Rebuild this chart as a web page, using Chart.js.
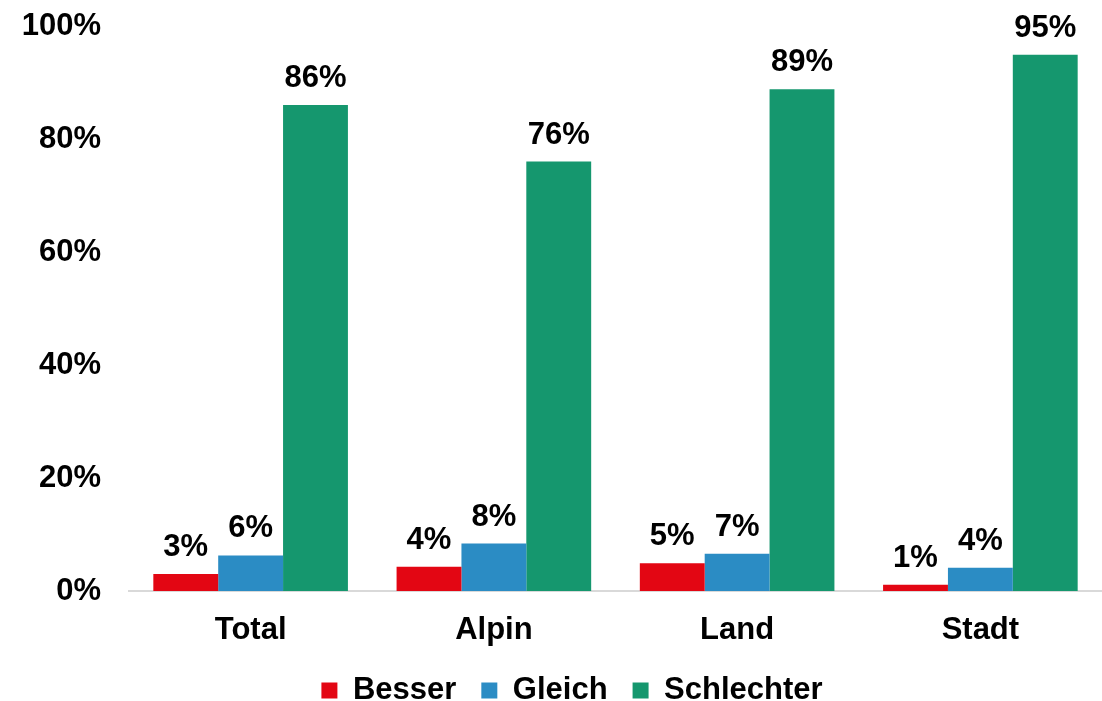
<!DOCTYPE html>
<html>
<head>
<meta charset="utf-8">
<script src="https://cdn.jsdelivr.net/npm/chart.js@4"></script>
<style>
  html, body { margin: 0; padding: 0; background: #fff; }
  #wrap { width: 1102px; height: 701px; }
</style>
</head>
<body>
<div id="wrap"><canvas id="barCanvas"></canvas></div>
<script>
// data
var categories = ["Total", "Alpin", "Land", "Stadt"];
var besser     = [3.0, 4.3, 4.9, 1.1];
var gleich     = [6.3, 8.4, 6.6, 4.1];
var schlechter = [86.0, 76.0, 88.8, 94.9];
var yTicks     = [0, 20, 40, 60, 80, 100];

var FONT = "'Liberation Sans', Arial, sans-serif";

// value labels above each bar
var valueLabels = {
    id: 'valueLabels',
    afterLayout: function(chart) {
        // nudge the legend a bit to the right, like the original
        if (chart.legend) { chart.legend.left += 42; }
    },
    afterDatasetsDraw: function(chart) {
        var ctx = chart.ctx;
        ctx.save();
        ctx.font = "bold 31px " + FONT;
        ctx.fillStyle = "#000";
        ctx.textAlign = "center";
        ctx.textBaseline = "alphabetic";
        chart.data.datasets.forEach(function(ds, i) {
            chart.getDatasetMeta(i).data.forEach(function(bar, j) {
                ctx.fillText(Math.round(ds.data[j]) + "%", bar.x, bar.y - 18);
            });
        });
        ctx.restore();
    }
};

var canvas1 = document.getElementById("barCanvas");
var myChart = new Chart(canvas1, {
    type: 'bar',
    data: {
        labels: categories,
        datasets: [
            { label: "Besser",     data: besser,     backgroundColor: "#e30613" },
            { label: "Gleich",     data: gleich,     backgroundColor: "#2b8cc4" },
            { label: "Schlechter", data: schlechter, backgroundColor: "#15976e" }
        ]
    },
    options: {
        responsive: true,
        maintainAspectRatio: false,
        animation: false,
        datasets: {
            bar: { categoryPercentage: 0.8, barPercentage: 1.0 }
        },
        layout: { padding: { top: 26, right: 0, left: 0, bottom: -15 } },
        plugins: {
            tooltip: { enabled: false },
            legend: {
                display: true,
                position: "bottom",
                labels: {
                    color: "#000",
                    font: { family: FONT, size: 31, weight: "bold" },
                    boxWidth: 16,
                    boxHeight: 16,
                    padding: 25
                }
            }
        },
        scales: {
            x: {
                grid: { display: false, drawTicks: false },
                border: { display: true, color: "#d9d9d9", width: 2 },
                ticks: {
                    color: "#000",
                    padding: 21,
                    font: { family: FONT, size: 31, weight: "bold" }
                },
                afterFit: function(scale) { scale.height = 59; }
            },
            y: {
                min: 0,
                max: 100,
                afterBuildTicks: function(scale) {
                    scale.ticks = yTicks.map(function(v) { return { value: v }; });
                },
                grid: { display: false, drawTicks: false },
                border: { display: false },
                ticks: {
                    color: "#000",
                    padding: 28,
                    font: { family: FONT, size: 31, weight: "bold" },
                    callback: function(v) { return v + "%"; }
                },
                afterFit: function(scale) {
                    scale.width = 129;
                    scale.paddingTop = 0;
                    scale.paddingBottom = 0;
                }
            }
        }
    },
    plugins: [valueLabels]
});
</script>
</body>
</html>
